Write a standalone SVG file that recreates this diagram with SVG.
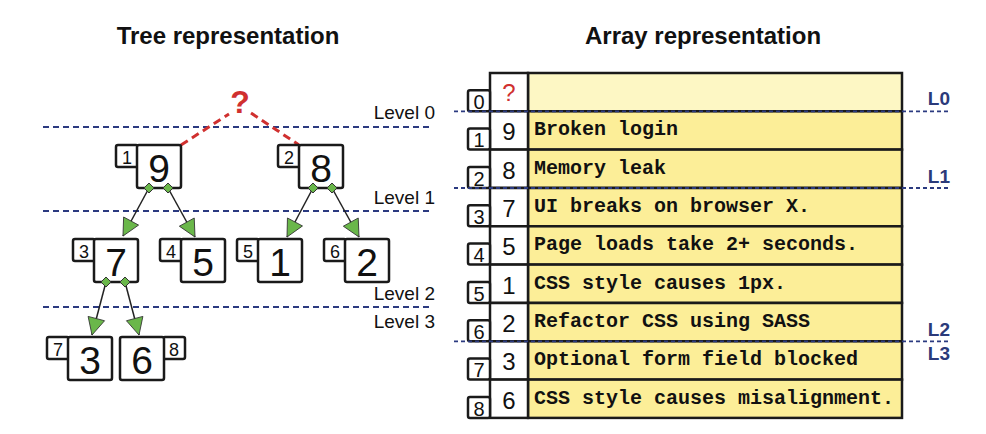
<svg xmlns="http://www.w3.org/2000/svg" width="986" height="434" viewBox="0 0 986 434">
<style>
.title{font-family:"Liberation Sans",Arial,sans-serif;font-weight:bold;font-size:24px;fill:#111;text-anchor:middle}
.lvl{font-family:"Liberation Sans",Arial,sans-serif;font-size:19px;fill:#111;text-anchor:end}
.lab{font-family:"Liberation Sans",Arial,sans-serif;font-weight:bold;font-size:19px;fill:#2b3a7a;text-anchor:end}
.dash{stroke:#2b3a80;stroke-width:2;stroke-dasharray:6 4;fill:none}
.adash{stroke:#2b3a80;stroke-width:1.8;stroke-dasharray:4 3;fill:none}
.box{fill:#fff;stroke:#1a1a1a;stroke-width:2.5}
.big{font-family:"Liberation Sans",Arial,sans-serif;font-size:39px;fill:#111;text-anchor:middle}
.idx{font-family:"Liberation Sans",Arial,sans-serif;font-size:18px;fill:#111;text-anchor:middle}
.aidx{font-family:"Liberation Sans",Arial,sans-serif;font-size:20px;fill:#111;text-anchor:middle}
.val{font-family:"Liberation Sans",Arial,sans-serif;font-size:24px;fill:#111;text-anchor:middle}
.desc{font-family:"Liberation Mono","Courier New",monospace;font-weight:bold;font-size:20px;fill:#111}
.row{fill:#fcee98;stroke:#1a1a1a;stroke-width:2.5}
.row0{fill:#fdf7c4;stroke:#1a1a1a;stroke-width:2.5}
.cell{fill:#fff;stroke:#1a1a1a;stroke-width:2.5}
.edge{stroke:#222;stroke-width:1.5;fill:none;marker-end:url(#arr)}
.dia{fill:#6ab74a;stroke:#333;stroke-width:1}
.red{stroke:#d0302f;stroke-width:3;stroke-dasharray:8 5;fill:none}
</style>
<defs>
<marker id="arr" markerUnits="userSpaceOnUse" markerWidth="19" markerHeight="19" refX="17" refY="8.5" orient="auto" viewBox="-1 -1 19 19">
<path d="M0,0 L17,8.5 L0,17 z" fill="#6ab74a" stroke="#333" stroke-width="0.8"/>
</marker>
</defs>
<rect width="986" height="434" fill="#fff"/>
<text class="title" x="228" y="44">Tree representation</text>
<text class="title" x="703" y="44">Array representation</text>

<g id="levels">
<line class="dash" x1="43" y1="127" x2="433" y2="127"/>
<line class="dash" x1="43" y1="211" x2="433" y2="211"/>
<line class="dash" x1="43" y1="307" x2="433" y2="307"/>
<text class="lvl" x="435" y="119">Level 0</text>
<text class="lvl" x="435" y="204">Level 1</text>
<text class="lvl" x="435" y="300">Level 2</text>
<text class="lvl" x="435" y="328">Level 3</text>
</g>

<g id="connectors">
<line class="red" x1="181" y1="145" x2="229" y2="114"/>
<line class="red" x1="251" y1="113" x2="299" y2="145"/>
<line class="edge" x1="149" y1="188" x2="123" y2="236"/>
<line class="edge" x1="168" y1="188" x2="195" y2="237"/>
<line class="edge" x1="313" y1="188" x2="287" y2="237"/>
<line class="edge" x1="332" y1="188" x2="359" y2="237"/>
<line class="edge" x1="106" y1="282" x2="92" y2="335"/>
<line class="edge" x1="125" y1="282" x2="139" y2="335"/>
</g>

<text x="240" y="113" font-family="Liberation Sans,Arial,sans-serif" font-weight="bold" font-size="32" fill="#d0302f" text-anchor="middle">?</text>

<g id="node9">
<rect class="box" x="116" y="145" width="22" height="22" rx="2"/>
<rect class="box" x="137" y="145" width="44" height="43" rx="2"/>
<text class="idx" x="127" y="164">1</text>
<text class="big" x="159" y="182">9</text>
<polygon class="dia" points="149,183 154,188 149,193 144,188"/>
<polygon class="dia" points="168,183 173,188 168,193 163,188"/>
</g>
<g id="node8">
<rect class="box" x="278" y="145" width="22" height="22" rx="2"/>
<rect class="box" x="299" y="145" width="44" height="43" rx="2"/>
<text class="idx" x="289" y="164">2</text>
<text class="big" x="321" y="182">8</text>
<polygon class="dia" points="313,183 318,188 313,193 308,188"/>
<polygon class="dia" points="332,183 337,188 332,193 327,188"/>
</g>
<g id="node7">
<rect class="box" x="73" y="239" width="22" height="22" rx="2"/>
<rect class="box" x="94" y="239" width="44" height="43" rx="2"/>
<text class="idx" x="84" y="258">3</text>
<text class="big" x="116" y="276">7</text>
<polygon class="dia" points="106,277 111,282 106,287 101,282"/>
<polygon class="dia" points="125,277 130,282 125,287 120,282"/>
</g>
<g id="node5">
<rect class="box" x="160" y="239" width="22" height="22" rx="2"/>
<rect class="box" x="181" y="239" width="44" height="43" rx="2"/>
<text class="idx" x="171" y="258">4</text>
<text class="big" x="203" y="276">5</text>
</g>
<g id="node1">
<rect class="box" x="237" y="239" width="22" height="22" rx="2"/>
<rect class="box" x="258" y="239" width="44" height="43" rx="2"/>
<text class="idx" x="248" y="258">5</text>
<text class="big" x="280" y="276">1</text>
</g>
<g id="node2">
<rect class="box" x="324" y="239" width="22" height="22" rx="2"/>
<rect class="box" x="345" y="239" width="44" height="43" rx="2"/>
<text class="idx" x="335" y="258">6</text>
<text class="big" x="367" y="276">2</text>
</g>
<g id="node3">
<rect class="box" x="47" y="337" width="22" height="22" rx="2"/>
<rect class="box" x="68" y="337" width="44" height="43" rx="2"/>
<text class="idx" x="58" y="356">7</text>
<text class="big" x="90" y="374">3</text>
</g>
<g id="node6">
<rect class="box" x="163" y="337" width="22" height="22" rx="2"/>
<rect class="box" x="120" y="337" width="44" height="43" rx="2"/>
<text class="idx" x="174" y="356">8</text>
<text class="big" x="142" y="374">6</text>
</g>

<g id="array">
<g id="row0">
<rect class="row0" x="528" y="73" width="374" height="38.3"/>
<rect class="cell" x="490" y="73" width="38" height="38.3"/>
<rect class="box" x="468" y="90.3" width="22" height="21" rx="2"/>
<text class="aidx" x="479" y="109">0</text>
<text x="509" y="101" font-family="Liberation Sans,Arial,sans-serif" font-size="24" fill="#d0302f" text-anchor="middle">?</text>
</g>
<g id="row1">
<rect class="row" x="528" y="111.3" width="374" height="38.3"/>
<rect class="cell" x="490" y="111.3" width="38" height="38.3"/>
<rect class="box" x="468" y="128.6" width="22" height="21" rx="2"/>
<text class="aidx" x="479" y="147">1</text>
<text class="val" x="509" y="140">9</text>
<text class="desc" x="534" y="135">Broken login</text>
</g>
<g id="row2">
<rect class="row" x="528" y="149.6" width="374" height="38.3"/>
<rect class="cell" x="490" y="149.6" width="38" height="38.3"/>
<rect class="box" x="468" y="166.9" width="22" height="21" rx="2"/>
<text class="aidx" x="479" y="185.5">2</text>
<text class="val" x="509" y="178.5">8</text>
<text class="desc" x="534" y="173.5">Memory leak</text>
</g>
<g id="row3">
<rect class="row" x="528" y="188" width="374" height="38.3"/>
<rect class="cell" x="490" y="188" width="38" height="38.3"/>
<rect class="box" x="468" y="205.3" width="22" height="21" rx="2"/>
<text class="aidx" x="479" y="224">3</text>
<text class="val" x="509" y="217">7</text>
<text class="desc" x="534" y="212">UI breaks on browser X.</text>
</g>
<g id="row4">
<rect class="row" x="528" y="226.3" width="374" height="38.3"/>
<rect class="cell" x="490" y="226.3" width="38" height="38.3"/>
<rect class="box" x="468" y="243.6" width="22" height="21" rx="2"/>
<text class="aidx" x="479" y="262">4</text>
<text class="val" x="509" y="255">5</text>
<text class="desc" x="534" y="250">Page loads take 2+ seconds.</text>
</g>
<g id="row5">
<rect class="row" x="528" y="264.6" width="374" height="38.3"/>
<rect class="cell" x="490" y="264.6" width="38" height="38.3"/>
<rect class="box" x="468" y="281.9" width="22" height="21" rx="2"/>
<text class="aidx" x="479" y="300.5">5</text>
<text class="val" x="509" y="293.5">1</text>
<text class="desc" x="534" y="288.5">CSS style causes 1px.</text>
</g>
<g id="row6">
<rect class="row" x="528" y="303" width="374" height="38.3"/>
<rect class="cell" x="490" y="303" width="38" height="38.3"/>
<rect class="box" x="468" y="320.3" width="22" height="21" rx="2"/>
<text class="aidx" x="479" y="339">6</text>
<text class="val" x="509" y="332">2</text>
<text class="desc" x="534" y="327">Refactor CSS using SASS</text>
</g>
<g id="row7">
<rect class="row" x="528" y="341.3" width="374" height="38.3"/>
<rect class="cell" x="490" y="341.3" width="38" height="38.3"/>
<rect class="box" x="468" y="358.6" width="22" height="21" rx="2"/>
<text class="aidx" x="479" y="377">7</text>
<text class="val" x="509" y="370">3</text>
<text class="desc" x="534" y="365">Optional form field blocked</text>
</g>
<g id="row8">
<rect class="row" x="528" y="379.6" width="374" height="38.3"/>
<rect class="cell" x="490" y="379.6" width="38" height="38.3"/>
<rect class="box" x="468" y="396.9" width="22" height="21" rx="2"/>
<text class="aidx" x="479" y="415.5">8</text>
<text class="val" x="509" y="408.5">6</text>
<text class="desc" x="534" y="403.5">CSS style causes misalignment.</text>
</g>
</g>

<g id="array-levels">
<line class="adash" x1="454" y1="111.3" x2="950" y2="111.3"/>
<line class="adash" x1="454" y1="188" x2="950" y2="188"/>
<line class="adash" x1="454" y1="341.3" x2="950" y2="341.3"/>
<text class="lab" x="950" y="105">L0</text>
<text class="lab" x="950" y="183">L1</text>
<text class="lab" x="950" y="336">L2</text>
<text class="lab" x="950" y="360">L3</text>
</g>
</svg>
